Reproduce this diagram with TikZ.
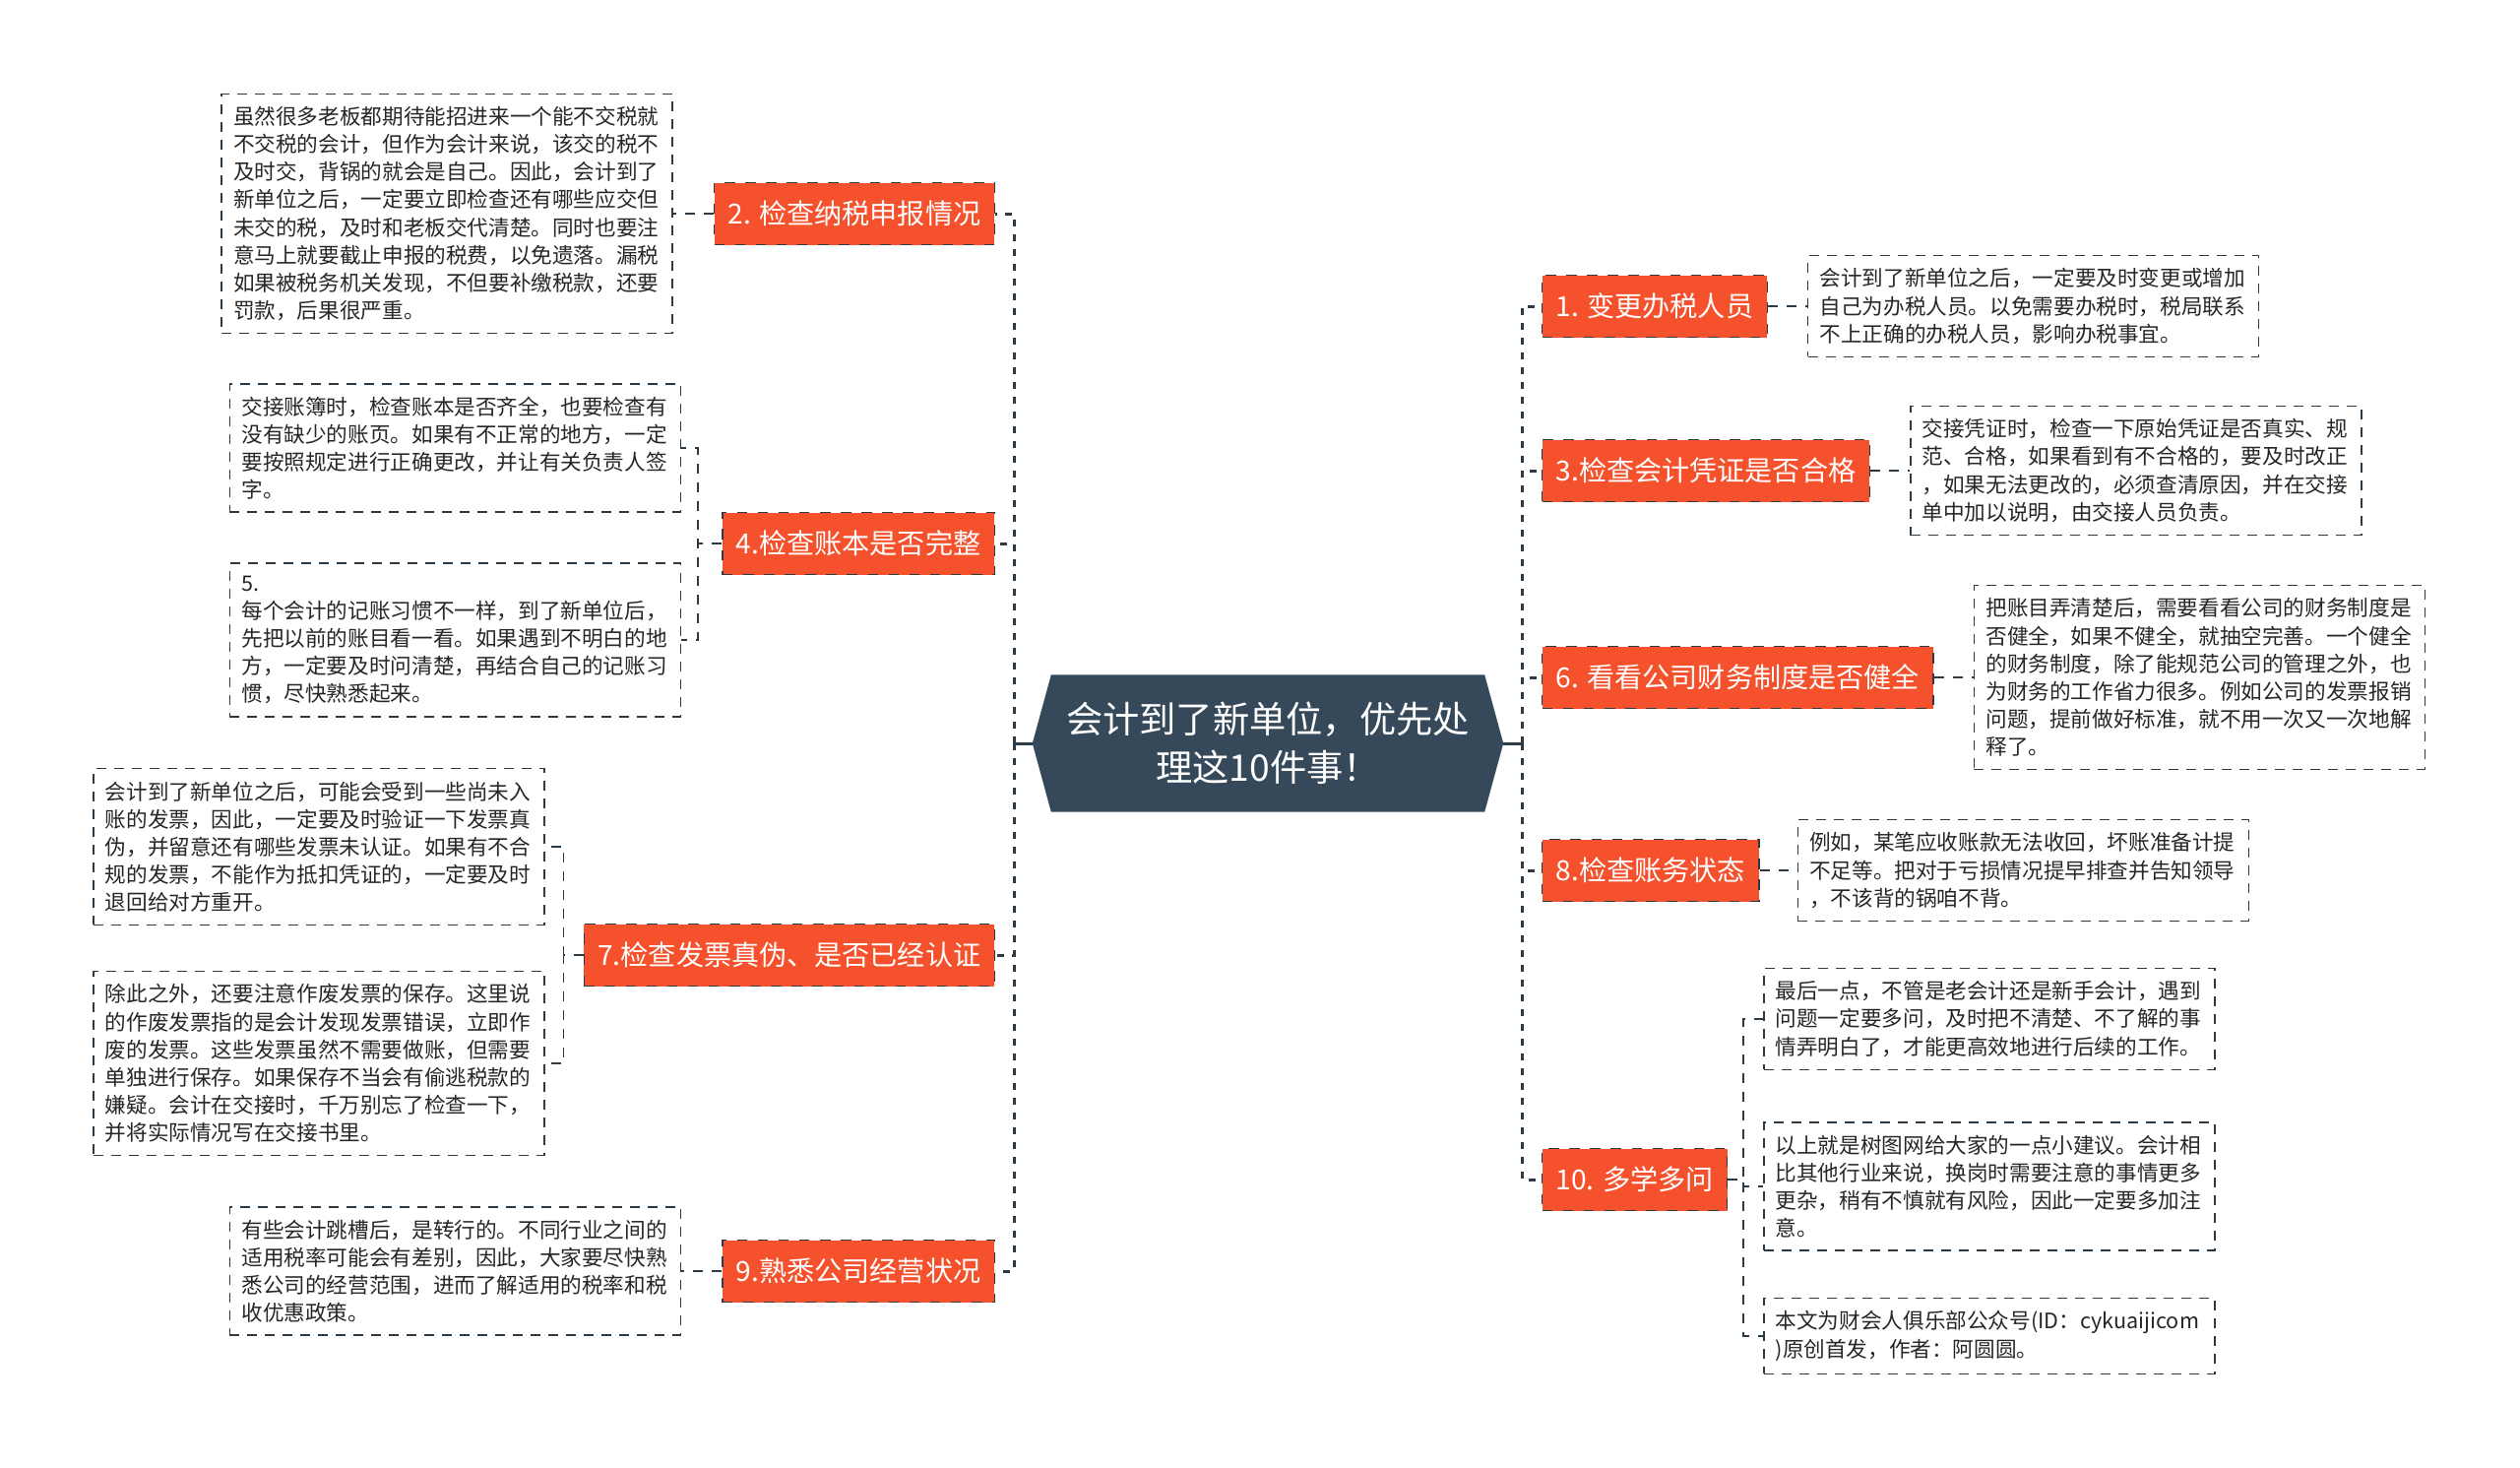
\documentclass[tikz,border=0pt]{standalone}
\usepackage{fontspec}
\setmainfont{Noto Sans CJK SC}
\usetikzlibrary{positioning,backgrounds,calc}
\definecolor{topicred}{HTML}{F4512C}
\definecolor{rootblue}{HTML}{36495A}
\definecolor{linedark}{HTML}{2D3B47}

\begin{document}
\begin{tikzpicture}[
   x=0.1mm, y=-0.1mm,
   topic/.style = {draw=linedark, dashed, fill=topicred, text=white,
                   minimum height=6.3mm, inner xsep=1.4mm, inner ysep=0pt,
                   font=\fontsize{8}{10}\selectfont},
   note/.style  = {draw=linedark, dash pattern=on 1mm off 0.8mm, line width=0.15mm,
                   text width=43.4mm, inner xsep=1.2mm, inner ysep=1.3mm, align=left,
                   text=black!85, font=\fontsize{6.15}{8}\selectfont},
   root/.style  = {minimum width=47.7mm, minimum height=13.8mm, text width=43mm,
                   align=center, text=white, font=\fontsize{10.6}{13.9}\selectfont},
   stem/.style  = {draw=linedark, line width=0.3mm},
   trunk/.style = {stem, dash pattern=on 0.7mm off 0.8mm},
   twig/.style  = {draw=linedark, line width=0.15mm, dash pattern=on 1mm off 0.9mm}
]
\useasboundingbox (0,0) rectangle (2560,1491);

% centre
\node[root] (root) at (1288,755) {会计到了新单位，优先处\\理这10件事！};
\begin{scope}[on background layer]
\fill[rootblue] (root.west) -- ($(root.north west)+(19,0)$) -- ($(root.north east)+(-19,0)$)
   -- (root.east) -- ($(root.south east)+(-19,0)$) -- ($(root.south west)+(19,0)$) -- cycle;
\end{scope}

% left branches
\node[topic, anchor=east] (t2) at (1011,217)  {2. 检查纳税申报情况};
\node[topic, anchor=east] (t4) at (1011,552)  {4.检查账本是否完整};
\node[topic, anchor=east] (t7) at (1011,970)  {7.检查发票真伪、是否已经认证};
\node[topic, anchor=east] (t9) at (1011,1291) {9.熟悉公司经营状况};

\node[note, left=4.1mm of t2] (n2) {虽然很多老板都期待能招进来一个能不交税就\\
不交税的会计，但作为会计来说，该交的税不\\
及时交，背锅的就会是自己。因此，会计到了\\
新单位之后，一定要立即检查还有哪些应交但\\
未交的税，及时和老板交代清楚。同时也要注\\
意马上就要截止申报的税费，以免遗落。漏税\\
如果被税务机关发现，不但要补缴税款，还要\\
罚款，后果很严重。};
\node[note, anchor=east] (n4a) at ($(t4.west)+(-41,-97)$) {交接账簿时，检查账本是否齐全，也要检查有\\
没有缺少的账页。如果有不正常的地方，一定\\
要按照规定进行正确更改，并让有关负责人签\\
字。};
\node[note, anchor=east] (n4b) at ($(t4.west)+(-41,98)$) {5.\\
每个会计的记账习惯不一样，到了新单位后，\\
先把以前的账目看一看。如果遇到不明白的地\\
方，一定要及时问清楚，再结合自己的记账习\\
惯，尽快熟悉起来。};
\node[note, anchor=east] (n7a) at ($(t7.west)+(-39,-110)$) {会计到了新单位之后，可能会受到一些尚未入\\
账的发票，因此，一定要及时验证一下发票真\\
伪，并留意还有哪些发票未认证。如果有不合\\
规的发票，不能作为抵扣凭证的，一定要及时\\
退回给对方重开。};
\node[note, anchor=east] (n7b) at ($(t7.west)+(-39,110)$) {除此之外，还要注意作废发票的保存。这里说\\
的作废发票指的是会计发现发票错误，立即作\\
废的发票。这些发票虽然不需要做账，但需要\\
单独进行保存。如果保存不当会有偷逃税款的\\
嫌疑。会计在交接时，千万别忘了检查一下，\\
并将实际情况写在交接书里。};
\node[note, left=4.1mm of t9] (n9) {有些会计跳槽后，是转行的。不同行业之间的\\
适用税率可能会有差别，因此，大家要尽快熟\\
悉公司的经营范围，进而了解适用的税率和税\\
收优惠政策。};

% right branches
\node[topic, anchor=west] (t1)  at (1566,311)  {1. 变更办税人员};
\node[topic, anchor=west] (t3)  at (1566,478)  {3.检查会计凭证是否合格};
\node[topic, anchor=west] (t6)  at (1566,688)  {6. 看看公司财务制度是否健全};
\node[topic, anchor=west] (t8)  at (1566,884)  {8.检查账务状态};
\node[topic, anchor=west] (t10) at (1566,1198) {10. 多学多问};

\node[note, right=4mm of t1] (n1) {会计到了新单位之后，一定要及时变更或增加\\
自己为办税人员。以免需要办税时，税局联系\\
不上正确的办税人员，影响办税事宜。};
\node[note, right=4mm of t3] (n3) {交接凭证时，检查一下原始凭证是否真实、规\\
范、合格，如果看到有不合格的，要及时改正\\
，如果无法更改的，必须查清原因，并在交接\\
单中加以说明，由交接人员负责。};
\node[note, right=4mm of t6] (n6) {把账目弄清楚后，需要看看公司的财务制度是\\
否健全，如果不健全，就抽空完善。一个健全\\
的财务制度，除了能规范公司的管理之外，也\\
为财务的工作省力很多。例如公司的发票报销\\
问题，提前做好标准，就不用一次又一次地解\\
释了。};
\node[note, right=3.8mm of t8] (n8) {例如，某笔应收账款无法收回，坏账准备计提\\
不足等。把对于亏损情况提早排查并告知领导\\
，不该背的锅咱不背。};
\node[note, anchor=west] (n10a) at ($(t10.west)+(225,-163)$) {最后一点，不管是老会计还是新手会计，遇到\\
问题一定要多问，及时把不清楚、不了解的事\\
情弄明白了，才能更高效地进行后续的工作。};
\node[note, anchor=west] (n10b) at ($(t10.west)+(225,7)$) {以上就是树图网给大家的一点小建议。会计相\\
比其他行业来说，换岗时需要注意的事情更多\\
更杂，稍有不慎就有风险，因此一定要多加注\\
意。};
\node[note, anchor=west] (n10c) at ($(t10.west)+(225,159)$) {本文为财会人俱乐部公众号(ID：cykuaijicom\\
)原创首发，作者：阿圆圆。};

% connectors
\coordinate (lhub) at (1030,755);
\coordinate (rhub) at (1546,755);
\draw[stem] (root.west) -- (lhub);
\draw[stem] (root.east) -- (rhub);
\foreach \t in {t2,t4,t7,t9} \draw[trunk] (lhub) |- (\t.east);
\foreach \t in {t1,t3,t6,t8,t10} \draw[trunk] (rhub) |- (\t.west);

\coordinate (h4)  at ($(t4.west)+(-24,0)$);
\coordinate (h7)  at ($(t7.west)+(-20,0)$);
\coordinate (h10) at ($(t10.west)+(205,0)$);
\draw[twig] (t2.west) -- (n2.east);
\draw[twig] (t4.west) -- (h4) |- (n4a.east);
\draw[twig] (t4.west) -- (h4) |- (n4b.east);
\draw[twig] (t7.west) -- (h7) |- (n7a.east);
\draw[twig] (t7.west) -- (h7) |- (n7b.east);
\draw[twig] (t9.west) -- (n9.east);
\draw[twig] (t1.east) -- (n1.west);
\draw[twig] (t3.east) -- (n3.west);
\draw[twig] (t6.east) -- (n6.west);
\draw[twig] (t8.east) -- (n8.west);
\draw[twig] (t10.east) -- (h10) |- (n10a.west);
\draw[twig] (t10.east) -- (h10) |- (n10b.west);
\draw[twig] (t10.east) -- (h10) |- (n10c.west);
\end{tikzpicture}
\end{document}
